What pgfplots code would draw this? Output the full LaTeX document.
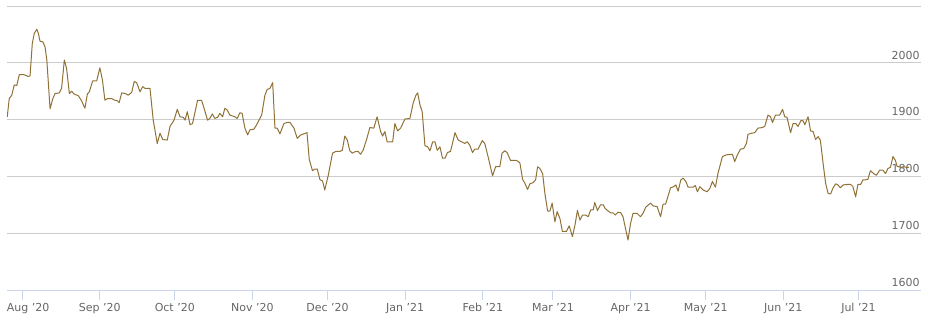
\documentclass[border=0pt]{standalone}
\usepackage{pgfplots}
\pgfplotsset{compat=1.18}
\usepackage{fontspec}
\setmainfont{DejaVu Sans}
\definecolor{goldline}{RGB}{143,114,55}
\definecolor{gridc}{RGB}{204,204,204}
\definecolor{axisc}{RGB}{204,214,235}
\definecolor{labc}{RGB}{102,102,102}
\newcommand{\q}{\char"0027\relax}
\begin{document}
\begin{tikzpicture}
\useasboundingbox (-5.25pt,-24pt) rectangle (696.75pt,217.5pt);
\begin{axis}[
  scale only axis, width=685.5pt, height=213pt,
  xmin=-6, xmax=359, ymin=1600, ymax=2100,
  axis x line*=bottom, axis y line*=right,
  y axis line style={draw=none},
  x axis line style={draw=axisc, line width=0.75pt},
  xtick={0,31,61,92,122,153,184,212,243,273,304,334},
  xticklabels={\hspace*{9pt}Aug \q20,Sep \q20,Oct \q20,Nov \q20,Dec \q20,Jan \q21,Feb \q21,Mar \q21,Apr \q21,May \q21,Jun \q21,Jul \q21},
  ytick={1600,1700,1800,1900,2000,2100},
  yticklabels={1600,1700,1800,1900,2000,{}},
  ymajorgrids, grid style={draw=gridc, line width=0.75pt},
  tick align=outside,
  xtick style={draw=axisc, line width=0.75pt},
  ytick style={draw=none},
  major tick length=7.5pt,
  ticklabel style={font=\fontsize{8.25}{10}\selectfont, text=labc},
  xticklabel style={anchor=north, inner sep=0pt, yshift=-2.25pt},
  yticklabel style={anchor=south east, inner sep=0pt, xshift=-8.25pt, yshift=2.5pt},
]
\addplot[goldline, line width=0.75pt, line join=round] coordinates {
(-5.9,1905)(-5.1,1937)(-4.1,1943)(-3.1,1961)(-2.1,1960)(-1.1,1979)(0.8,1979)(2.5,1976)(3.2,1977)
(4.1,2034)(4.9,2052)(5.9,2059)(6.5,2052)(7.2,2038)(8.3,2037)(9.2,2028)(9.9,2005)(11.2,1919)
(12.3,1937)(13.2,1946)(14.9,1947)(15.8,1955)(16.9,2005)(17.8,1990)(18.9,1946)(19.8,1950)
(20.8,1945)(22.5,1942)(23.8,1933)(25.1,1920)(26.1,1945)(26.9,1949)(28.2,1968)(29.8,1968)
(31.1,1991)(32.1,1970)(33.1,1934)(34.1,1937)(35.8,1937)(37.1,1934)(37.8,1934)(38.8,1930)
(39.8,1947)(41.1,1946)(42.4,1943)(43.8,1948)(44.8,1967)(45.8,1965)(47.1,1949)(48.2,1958)
(49.1,1955)(51.1,1955)(52.4,1899)(54.0,1858)(55.1,1876)(56.2,1865)(58.0,1864)(59.1,1888)
(60.7,1899)(62.0,1918)(63.1,1905)(64.4,1904)(65.1,1899)(66.0,1914)(67.1,1891)(68.1,1893)
(70.1,1934)(71.7,1934)(72.7,1920)(74.1,1899)(75.0,1902)(76.0,1910)(77.0,1902)(78.1,1904)
(79.0,1911)(80.1,1905)(81.0,1920)(81.9,1917)(83.0,1908)(85.0,1905)(85.9,1902)(87.0,1912)
(87.9,1911)(89.0,1885)(90.1,1873)(91.0,1882)(92.6,1883)(93.7,1891)(95.7,1908)(97.0,1943)
(97.9,1953)(99.0,1955)(100.1,1965)(101.0,1885)(101.9,1885)(103.0,1875)(104.6,1893)
(105.9,1895)(107.0,1895)(108.6,1885)(109.9,1867)(111.3,1873)(113.8,1877)(114.7,1830)
(116.0,1810)(116.9,1813)(117.9,1813)(119.0,1794)(120.0,1792)(120.9,1776)(122.3,1802)
(124.0,1841)(125.3,1844)(126.9,1844)(127.9,1846)(128.9,1871)(129.9,1864)(130.9,1845)
(131.9,1841)(133.3,1844)(134.2,1844)(135.2,1839)(136.2,1846)(137.6,1865)(138.9,1886)
(140.5,1885)(141.8,1905)(143.2,1879)(144.0,1871)(144.9,1879)(145.8,1861)(148.0,1861)
(148.9,1893)(150.0,1880)(151.2,1885)(152.9,1901)(154.9,1902)(156.2,1929)(157.3,1943)
(158.0,1947)(158.9,1926)(159.8,1914)(160.9,1854)(162.0,1852)(162.9,1845)(164.0,1861)
(164.9,1861)(165.8,1846)(166.9,1852)(167.9,1832)(168.9,1832)(169.9,1842)(171.1,1844)
(171.9,1858)(172.9,1877)(174.2,1864)(175.5,1861)(176.8,1858)(177.8,1861)(178.8,1855)
(179.9,1842)(180.8,1848)(182.1,1848)(183.8,1863)(184.8,1858)(186.1,1835)(187.9,1801)
(189.1,1817)(190.8,1817)(191.7,1841)(192.8,1845)(193.7,1842)(195.1,1828)(197.5,1828)
(198.8,1824)(199.9,1795)(200.8,1788)(201.9,1777)(202.8,1787)(204.1,1789)(205.1,1794)
(205.9,1817)(206.8,1814)(207.9,1805)(208.8,1770)(209.9,1739)(210.8,1739)(211.7,1753)
(212.8,1720)(213.7,1738)(214.8,1726)(215.8,1703)(217.4,1703)(218.5,1713)(219.8,1694)
(220.8,1714)(221.8,1740)(222.8,1723)(223.8,1732)(225.1,1732)(226.1,1729)(227.1,1741)
(228.1,1741)(228.7,1754)(229.8,1740)(231.0,1750)(232.1,1750)(232.8,1744)(233.5,1741)
(235.0,1736)(236.0,1736)(236.9,1732)(238.0,1737)(239.1,1736)(240.0,1729)(241.1,1706)
(242.0,1688)(243.0,1717)(244.0,1735)(245.6,1735)(247.0,1729)(248.0,1735)(249.1,1746)
(251.0,1753)(252.0,1748)(253.6,1747)(255.0,1729)(256.0,1751)(257.0,1751)(259.0,1780)
(260.3,1782)(261.1,1785)(262.0,1774)(263.1,1794)(264.0,1797)(265.1,1791)(266.0,1781)
(268.0,1781)(268.9,1784)(269.7,1773)(270.7,1782)(272.0,1776)(273.6,1773)(274.7,1779)
(275.7,1791)(276.9,1781)(277.9,1805)(279.7,1835)(281.3,1838)(283.7,1839)(284.6,1826)
(285.7,1838)(286.9,1848)(288.2,1849)(289.3,1858)(289.9,1874)(291.3,1876)(292.6,1877)
(293.9,1885)(295.7,1886)(296.6,1888)(297.9,1908)(298.9,1905)(299.7,1895)(300.9,1908)
(302.6,1908)(303.7,1918)(304.6,1905)(305.5,1904)(306.9,1877)(307.9,1893)(309.0,1893)
(309.9,1888)(311.0,1898)(311.9,1898)(312.6,1891)(313.9,1905)(314.9,1880)(315.9,1879)
(316.9,1865)(317.9,1870)(318.8,1864)(319.9,1823)(320.9,1788)(321.9,1770)(322.9,1769)
(323.8,1779)(324.9,1787)(325.8,1785)(326.8,1780)(327.9,1785)(329.9,1786)(330.9,1786)
(331.8,1782)(332.9,1764)(333.8,1786)(334.9,1786)(335.8,1794)(336.9,1794)(337.8,1795)
(338.8,1810)(340.1,1805)(341.2,1802)(342.5,1811)(343.8,1811)(344.8,1805)(345.8,1814)
(346.8,1816)(347.8,1835)(348.8,1828)(349.4,1818)(350.8,1816)(352.1,1817)(353.2,1816)
(354.2,1816)
};
\end{axis}
\end{tikzpicture}
\end{document}
